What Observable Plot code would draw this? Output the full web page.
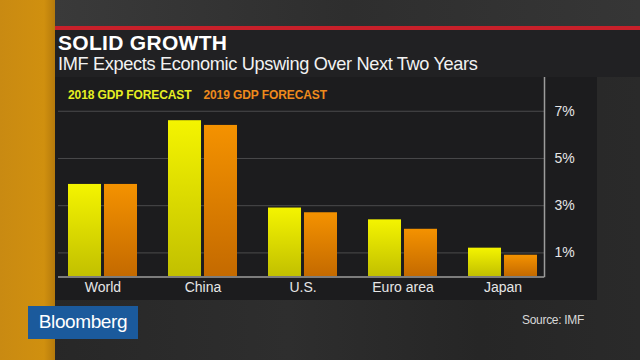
<!DOCTYPE html>
<html>
<head>
<meta charset="utf-8">
<script src="https://cdn.jsdelivr.net/npm/d3@7"></script>
<script src="https://cdn.jsdelivr.net/npm/@observablehq/plot@0.6"></script>
<style>
  html, body { margin: 0; padding: 0; }
  body {
    width: 640px; height: 360px; overflow: hidden; position: relative;
    background: linear-gradient(90deg, #262626 0%, #2e2e2e 45%, #262626 75%, #2a2a2a 100%);
    font-family: "Liberation Sans", Arial, sans-serif;
  }
  #stripe { position: absolute; left: 0; top: 0; width: 55px; height: 360px;
    background: linear-gradient(90deg, #c98a12 0%, #d0900f 80%, #b57a0c 100%); }
  #topbg { position: absolute; left: 55px; top: 0; width: 585px; height: 26px;
    background: linear-gradient(90deg, #3a3a3a, #2e2e2e 50%, #363636); }
  #redline { position: absolute; left: 55px; top: 26px; width: 585px; height: 4px; background: #c8202a; }
  #header { position: absolute; left: 55px; top: 30px; width: 585px; height: 47px; background: #212123; }
  #title { position: absolute; left: 58px; top: 31px; color: #fff; font-weight: bold; font-size: 21px;
    letter-spacing: 0.3px; }
  #subtitle { position: absolute; left: 58px; top: 54px; color: #f2f2f2; font-size: 18.2px; letter-spacing: -0.35px; }
  #panel { position: absolute; left: 55px; top: 77px; width: 542px; height: 223px; background: #1c1c1e; }
  #legend { position: absolute; left: 68px; top: 88px; font-size: 12px; font-weight: bold; letter-spacing: -0.1px; }
  #legend span { margin-right: 12px; }
  #chart { position: absolute; left: 0; top: 77px; }
  #logo { position: absolute; left: 28px; top: 306px; width: 110px; height: 33px; background: #1b5a9c;
    color: #fff; font-size: 19px; line-height: 31px; text-align: center; letter-spacing: -0.4px; }
  #source { position: absolute; left: 522px; top: 313px; color: #d8d8d8; font-size: 12px; letter-spacing: -0.3px; }
</style>
</head>
<body>
<div id="stripe"></div>
<div id="topbg"></div>
<div id="redline"></div>
<div id="header"></div>
<div id="title">SOLID GROWTH</div>
<div id="subtitle">IMF Expects Economic Upswing Over Next Two Years</div>
<div id="panel"></div>
<div id="legend"></div>
<div id="chart"></div>
<div id="logo">Bloomberg</div>
<div id="source">Source: IMF</div>
<script>
const countries = ["World", "China", "U.S.", "Euro area", "Japan"];
const forecast2018 = [3.9, 6.6, 2.9, 2.4, 1.2];
const forecast2019 = [3.9, 6.4, 2.7, 2.0, 0.9];
const seriesNames = ["2018 GDP FORECAST", "2019 GDP FORECAST"];
const yTicks = [1, 3, 5, 7];

const legend = document.getElementById("legend");
legend.innerHTML = `<span style="color:#e6ef22">${seriesNames[0]}</span><span style="color:#ee8a1c">${seriesNames[1]}</span>`;

const data2018 = countries.map((c, i) => ({country: c, value: forecast2018[i]}));
const data2019 = countries.map((c, i) => ({country: c, value: forecast2019[i]}));

const xRange = [67.3, 537.8];
const padInner = 0.307;
const step = (xRange[1] - xRange[0]) / (countries.length - padInner);
const bw = step * (1 - padInner);
const barW = (bw - 2.5) / 2;
const inset = bw - barW;

const plot = Plot.plot({
  width: 640,
  height: 223,
  marginLeft: 58,
  marginRight: 96,
  marginTop: 0,
  marginBottom: 24,
  style: { background: "transparent", color: "#e8e8e8", fontFamily: "Liberation Sans, Arial, sans-serif" },
  x: { type: "band", domain: countries, range: xRange, paddingInner: padInner, paddingOuter: 0 },
  y: { domain: [0, 8.43] },
  marks: [
    Plot.ruleY(yTicks, { stroke: "#4a4a4c", strokeWidth: 1 }),
    Plot.barY(data2018, { x: "country", y: "value", fill: "url(#g2018)", insetLeft: 0, insetRight: inset }),
    Plot.barY(data2019, { x: "country", y: "value", fill: "url(#g2019)", insetLeft: inset, insetRight: 0 }),
    Plot.ruleY([0], { stroke: "#9c9c9c", strokeWidth: 1.5, dy: 0.5 }),
    Plot.frame({ anchor: "right", stroke: "#9c9c9c", strokeWidth: 1.5 }),
    Plot.axisY(yTicks, { anchor: "right", tickSize: 0, tickPadding: 10, tickFormat: d => d + "%",
      fontSize: 14, fill: "#e6e6e6", label: null }),
    Plot.axisX({ anchor: "bottom", tickSize: 0, tickPadding: 6, fontSize: 14, fill: "#e6e6e6", label: null })
  ]
});

const ns = "http://www.w3.org/2000/svg";
const defs = document.createElementNS(ns, "defs");
function grad(id, top, bottom) {
  const g = document.createElementNS(ns, "linearGradient");
  g.setAttribute("id", id);
  g.setAttribute("x1", "0"); g.setAttribute("y1", "0");
  g.setAttribute("x2", "0"); g.setAttribute("y2", "1");
  [[0, top], [1, bottom]].forEach(([o, c]) => {
    const s = document.createElementNS(ns, "stop");
    s.setAttribute("offset", o);
    s.setAttribute("stop-color", c);
    g.appendChild(s);
  });
  defs.appendChild(g);
}
grad("g2018", "#f4f400", "#c2c000");
grad("g2019", "#f49200", "#c46a00");
plot.insertBefore(defs, plot.firstChild);

document.getElementById("chart").appendChild(plot);
</script>
</body>
</html>
